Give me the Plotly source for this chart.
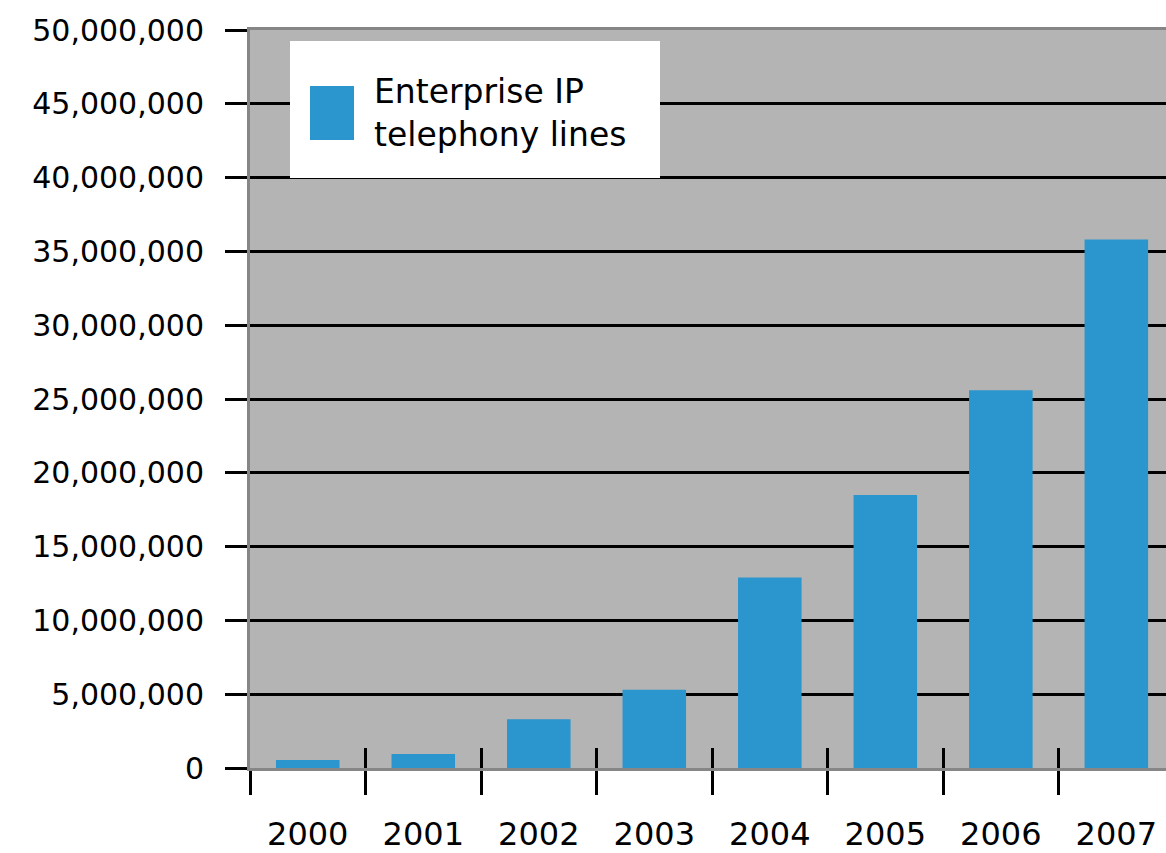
import plotly.graph_objects as go

years = ["2000", "2001", "2002", "2003", "2004", "2005", "2006", "2007"]
lines = [550000, 950000, 3300000, 5300000, 12900000, 18500000, 25600000, 35800000]
series_name = "Enterprise IP<br>telephony lines"
y_ticks = list(range(0, 50000001, 5000000))
y_tick_text = [f"{v:,}" for v in y_ticks]

W, H = 1166, 853
ML, MT, MB = 250, 30, 85
plot_w = W - ML
plot_h = H - MT - MB

def px_x(p):
    return (p - ML) / plot_w

def px_y(p):
    return (H - MB - p) / plot_h

BLUE = "#2b95ce"
FONT = "DejaVu Sans"

fig = go.Figure()
fig.add_trace(go.Bar(x=years, y=lines, name="Enterprise IP telephony lines",
                     marker=dict(color=BLUE, line=dict(width=0)),
                     width=0.55, showlegend=False))
fig.add_trace(go.Scatter(x=[None], y=[None], xaxis="x2", showlegend=False, hoverinfo="skip"))

x_right = 7.43
fig.update_layout(
    width=W, height=H,
    margin=dict(l=ML, r=0, t=MT, b=MB),
    paper_bgcolor="white",
    plot_bgcolor="#b4b4b4",
    font=dict(family=FONT, color="black"),
    xaxis=dict(
        type="category", range=[-0.5, x_right], automargin=False,
        tickson="boundaries", ticks="outside", ticklen=24, tickwidth=3,
        tickcolor="black", showgrid=False, zeroline=False,
        showline=True, linecolor="#868686", linewidth=3, mirror=True,
        tickfont=dict(size=32, family=FONT, color="black"),
        ticklabelstandoff=36,
    ),
    xaxis2=dict(
        overlaying="x", anchor="y", side="bottom", type="linear",
        range=[-0.5, x_right], automargin=False,
        tickvals=[i + 0.5 for i in range(len(years) - 1)],
        ticks="inside", ticklen=20, tickwidth=3, tickcolor="black",
        showticklabels=False, showgrid=False, zeroline=False, showline=False,
    ),
    yaxis=dict(
        range=[0, 50000000], tickvals=y_ticks, ticktext=y_tick_text,
        automargin=False,
        ticks="outside", ticklen=22, tickwidth=3, tickcolor="black",
        showgrid=True, gridcolor="black", gridwidth=3,
        zeroline=False, showline=True, linecolor="#868686", linewidth=3,
        mirror=False,
        tickfont=dict(size=30, family=FONT, color="black"),
        ticklabelstandoff=15,
    ),
    shapes=[
        dict(type="rect", xref="paper", yref="paper",
             x0=px_x(290), x1=px_x(660), y0=px_y(178), y1=px_y(41),
             fillcolor="white", line=dict(width=0), layer="above"),
        dict(type="rect", xref="paper", yref="paper",
             x0=px_x(310), x1=px_x(354), y0=px_y(140), y1=px_y(86),
             fillcolor=BLUE, line=dict(width=0), layer="above"),
    ],
    annotations=[
        dict(text=series_name, xref="paper", yref="paper",
             x=px_x(372), y=px_y(113), xanchor="left", yanchor="middle",
             align="left", showarrow=False,
             font=dict(size=33, family=FONT, color="black")),
    ],
)

fig.write_html("out.html", config={"displayModeBar": False},
               post_script="document.body.style.margin='0';document.body.style.overflow='hidden';")
